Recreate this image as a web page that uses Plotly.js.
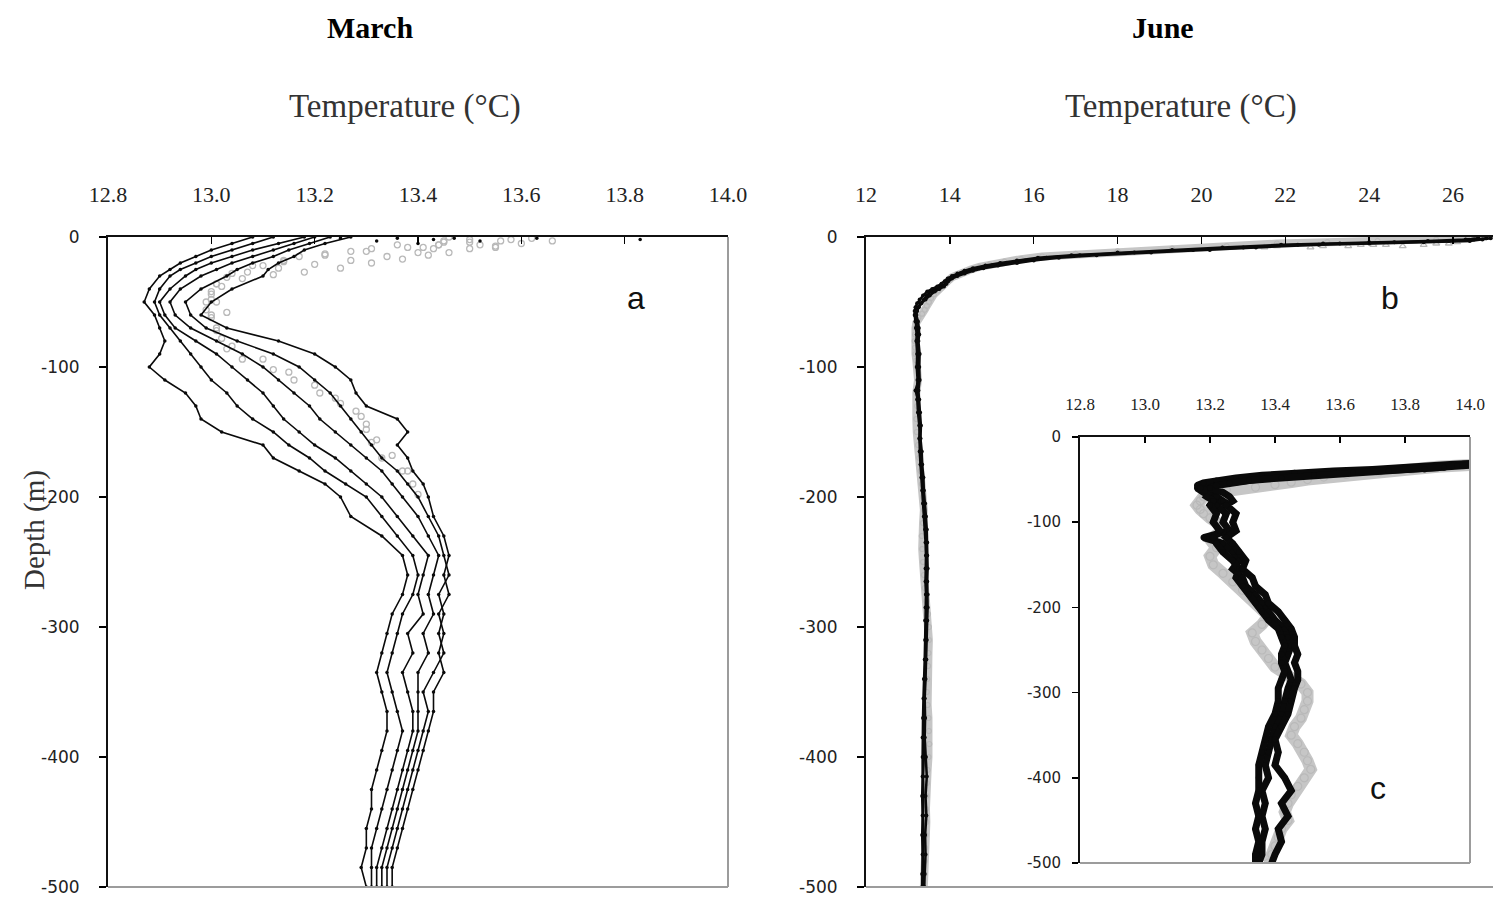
<!DOCTYPE html>
<html>
<head>
<meta charset="utf-8">
<script src="https://cdn.plot.ly/plotly-3.0.1.min.js"></script>
<style>html,body{margin:0;padding:0;background:#fff;}#chart{width:1493px;height:901px;}</style>
</head>
<body>
<div id="chart"></div>
<script>
// ---------- March (panel a) ----------
const marchDepth = [0,-5,-10,-15,-20,-25,-30,-40,-50,-60,-70,-80,-90,-100,-110,-120,-130,-140,-150,-160,-170,-180,-190,-200,-215,-230,-245,-260,-275,-290,-305,-320,-335,-350,-365,-380,-395,-410,-425,-440,-455,-470,-485,-500];
const marchP1 = [13.08,13.04,13.00,12.97,12.94,12.92,12.90,12.88,12.87,12.89,12.90,12.91,12.90,12.88,12.91,12.95,12.97,12.98,13.02,13.10,13.12,13.17,13.22,13.25,13.27,13.33,13.37,13.38,13.37,13.35,13.34,13.33,13.32,13.33,13.34,13.34,13.33,13.32,13.31,13.31,13.30,13.30,13.29,13.30];
const marchP2 = [13.12,13.08,13.04,13.00,12.97,12.94,12.92,12.90,12.89,12.90,12.92,12.94,12.96,12.98,13.00,13.03,13.05,13.08,13.12,13.15,13.19,13.22,13.26,13.30,13.33,13.36,13.39,13.40,13.39,13.37,13.36,13.35,13.34,13.35,13.36,13.37,13.36,13.35,13.34,13.33,13.32,13.31,13.31,13.31];
const marchP3 = [13.18,13.13,13.08,13.04,13.00,12.97,12.95,12.92,12.90,12.91,12.93,12.97,13.01,13.04,13.07,13.10,13.12,13.14,13.17,13.20,13.24,13.27,13.30,13.33,13.36,13.39,13.42,13.41,13.40,13.41,13.38,13.39,13.37,13.38,13.39,13.39,13.38,13.37,13.36,13.35,13.34,13.33,13.32,13.32];
const marchP4 = [13.20,13.16,13.12,13.08,13.04,13.01,12.98,12.94,12.92,12.93,12.96,13.01,13.06,13.10,13.13,13.16,13.19,13.21,13.24,13.27,13.30,13.33,13.35,13.37,13.40,13.42,13.44,13.43,13.42,13.43,13.41,13.42,13.40,13.40,13.40,13.40,13.39,13.38,13.37,13.36,13.35,13.34,13.33,13.33];
const marchP5 = [13.23,13.19,13.15,13.12,13.08,13.05,13.03,12.98,12.95,12.96,12.99,13.05,13.12,13.17,13.20,13.23,13.25,13.27,13.29,13.31,13.33,13.36,13.38,13.40,13.42,13.44,13.45,13.46,13.44,13.45,13.44,13.45,13.43,13.41,13.42,13.41,13.40,13.39,13.38,13.37,13.36,13.35,13.34,13.34];
const marchP6 = [13.27,13.22,13.18,13.16,13.13,13.11,13.10,13.04,13.00,12.98,13.03,13.13,13.20,13.24,13.27,13.28,13.30,13.36,13.38,13.36,13.38,13.39,13.41,13.42,13.43,13.45,13.46,13.45,13.46,13.44,13.45,13.44,13.45,13.43,13.43,13.42,13.41,13.40,13.39,13.38,13.37,13.36,13.35,13.35];
const marchSurfT = [13.25,13.32,13.36,13.40,13.43,13.47,13.52,13.63,13.83];
const marchSurfD = [-1,-3,-1,-5,-2,-1,-3,-1,-2];
const marchGray1T = [13.66,13.60,13.55,13.50,13.46,13.42,13.37,13.31,13.25,13.18,13.12,13.06,13.02,13.00,12.99,12.99,13.00,13.01,13.02,13.03,13.06,13.12,13.16,13.21,13.25,13.29,13.30,13.31,13.33,13.37,13.39,13.40];
const marchGray1D = [-3,-5,-7,-9,-12,-14,-17,-20,-24,-27,-29,-32,-38,-44,-50,-56,-62,-70,-78,-86,-94,-102,-110,-120,-128,-138,-148,-158,-170,-180,-190,-198];
const marchGray2T = [13.46,13.45,13.44,13.43,13.40,13.34,13.27,13.20,13.13,13.07,13.03,13.01,13.00,13.01,13.03];
const marchGray2D = [0,-3,-6,-9,-12,-15,-18,-21,-24,-27,-31,-36,-42,-50,-58];
const marchGray3T = [13.62,13.56,13.50,13.44,13.38,13.30,13.22,13.14,13.08,13.04,13.01,13.00,13.00,13.01,13.04,13.10,13.15,13.20,13.24,13.28,13.30,13.32,13.35,13.38];
const marchGray3D = [-1,-3,-4,-6,-8,-11,-14,-18,-22,-28,-36,-48,-60,-72,-84,-94,-104,-114,-124,-134,-144,-156,-168,-180];
const marchGray4T = [13.50,13.52,13.45,13.41,13.36,13.31,13.27,13.22,13.17,13.14,13.10,13.58,13.55];
const marchGray4D = [-2,-6,-4,-8,-6,-9,-11,-13,-15,-19,-22,-2,-8];

// ---------- June (panels b and c) ----------
const juneDepth = [-1,-2,-3,-4,-5,-6,-8,-10,-12,-14,-16,-18,-20,-22,-24,-26,-28,-30,-32,-34,-36,-38,-40,-42,-45,-48,-51,-54,-57,-60,-65,-70,-75,-80,-90,-100,-110,-118,-125,-135,-145,-155,-165,-175,-185,-195,-205,-215,-225,-235,-245,-255,-265,-275,-285,-295,-310,-325,-340,-355,-370,-385,-400,-415,-430,-445,-460,-475,-490,-500];
const juneBlack1 = [26.8,26.5,25.9,24.6,23.3,22.3,21.0,19.8,18.4,17.1,16.3,15.8,15.4,15.0,14.7,14.45,14.25,14.1,13.98,13.95,13.9,13.8,13.66,13.54,13.45,13.38,13.3,13.24,13.19,13.16,13.18,13.22,13.24,13.22,13.25,13.24,13.26,13.18,13.24,13.27,13.29,13.27,13.30,13.31,13.34,13.36,13.38,13.40,13.43,13.44,13.45,13.44,13.43,13.44,13.45,13.44,13.43,13.42,13.40,13.39,13.38,13.37,13.38,13.36,13.37,13.36,13.37,13.36,13.36,13.35];
const juneBlack2 = [26.6,26.3,25.4,24.0,22.9,21.9,20.5,19.3,18.0,16.9,16.1,15.6,15.2,14.85,14.55,14.35,14.18,14.05,13.95,13.88,13.8,13.7,13.58,13.46,13.36,13.28,13.22,13.18,13.16,13.17,13.2,13.19,13.21,13.2,13.22,13.21,13.23,13.21,13.22,13.24,13.27,13.29,13.28,13.30,13.32,13.34,13.36,13.38,13.41,13.42,13.43,13.42,13.42,13.43,13.42,13.41,13.41,13.40,13.38,13.37,13.36,13.35,13.35,13.35,13.34,13.35,13.34,13.35,13.34,13.34];
const juneBlack3 = [26.9,26.7,26.4,25.3,24.0,22.8,21.3,20.2,18.8,17.5,16.6,16.0,15.6,15.15,14.8,14.55,14.35,14.18,14.05,13.96,13.92,13.86,13.75,13.64,13.52,13.42,13.32,13.26,13.22,13.2,13.24,13.26,13.27,13.25,13.28,13.27,13.28,13.25,13.27,13.29,13.31,13.30,13.33,13.34,13.37,13.38,13.41,13.43,13.45,13.46,13.46,13.47,13.46,13.47,13.47,13.46,13.45,13.44,13.42,13.40,13.41,13.40,13.43,13.45,13.42,13.44,13.41,13.42,13.40,13.39];
const juneGrayDepth = [-1,-2,-3,-4,-5,-7,-9,-11,-13,-15,-17,-19,-21,-23,-25,-27,-29,-31,-33,-35,-38,-41,-44,-47,-50,-53,-56,-59,-62,-66,-70,-75,-80,-85,-90,-95,-100,-110,-120,-130,-140,-150,-160,-170,-180,-190,-200,-210,-220,-230,-240,-250,-260,-270,-280,-290,-300,-310,-320,-330,-340,-350,-360,-370,-380,-390,-400,-410,-420,-430,-440,-450,-460,-470,-480,-490,-500];
const juneGray = [26.4,25.6,24.2,23.0,21.8,20.6,19.3,18.0,17.0,16.2,15.7,15.3,14.95,14.7,14.5,14.3,14.15,14.05,13.98,13.9,13.82,13.72,13.62,13.55,13.5,13.45,13.4,13.34,13.25,13.2,13.18,13.17,13.16,13.17,13.18,13.2,13.22,13.24,13.2,13.22,13.2,13.21,13.24,13.27,13.3,13.33,13.36,13.38,13.36,13.33,13.34,13.36,13.38,13.40,13.44,13.48,13.5,13.5,13.49,13.48,13.46,13.45,13.47,13.49,13.5,13.51,13.49,13.47,13.45,13.44,13.43,13.44,13.42,13.41,13.40,13.39,13.38];
const juneTriT = [21.5,21.8,22.6,22.9,23.5,23.8,24.1,24.4,24.8,25.3,25.6,25.9,26.1];
const juneTriD = [-8,-7,-8,-7,-7,-6,-6,-6,-7,-6,-5,-5,-4];

// ---------- tick labels ----------
const tickMarchVals = [12.8,13.0,13.2,13.4,13.6,13.8,14.0];
const tickMarchText = ['12.8','13.0','13.2','13.4','13.6','13.8','14.0'];
const tickJuneVals = [12,14,16,18,20,22,24,26];
const tickJuneText = ['12','14','16','18','20','22','24','26'];
const depthTickVals = [0,-100,-200,-300,-400,-500];
const depthTickText = ['0','-100','-200','-300','-400','-500'];

const W = 1493, H = 901;
const px = v => v / W;
const py = v => 1 - v / H;

const BLACK = '#0a0a0a';
const GRAY = '#b9b9b9';

function blackLine(x, y, xa, ya, lw, ms) {
  return {x: x, y: y, xaxis: xa, yaxis: ya, type: 'scatter', mode: 'lines+markers',
    line: {color: BLACK, width: lw}, marker: {color: BLACK, size: ms}, showlegend: false, hoverinfo: 'skip'};
}
function grayLine(x, y, xa, ya, lw, ms) {
  return {x: x, y: y, xaxis: xa, yaxis: ya, type: 'scatter', mode: 'lines+markers',
    line: {color: '#c6c6c6', width: lw}, marker: {color: GRAY, size: ms, symbol: 'circle-open', line: {width: 1.2, color: GRAY}}, showlegend: false, hoverinfo: 'skip'};
}
function grayDots(x, y, xa, ya, ms, sym) {
  return {x: x, y: y, xaxis: xa, yaxis: ya, type: 'scatter', mode: 'markers',
    marker: {color: GRAY, size: ms, symbol: sym, line: {width: 1.3, color: GRAY}}, showlegend: false, hoverinfo: 'skip'};
}

const traces = [
  grayDots(marchGray1T, marchGray1D, 'x', 'y', 6, 'circle-open'),
  grayDots(marchGray2T, marchGray2D, 'x', 'y', 6, 'circle-open'),
  grayDots(marchGray3T, marchGray3D, 'x', 'y', 6, 'circle-open'),
  grayDots(marchGray4T, marchGray4D, 'x', 'y', 6, 'circle-open'),
  blackLine(marchP1, marchDepth, 'x', 'y', 1.6, 3.5),
  blackLine(marchP2, marchDepth, 'x', 'y', 1.6, 3.5),
  blackLine(marchP3, marchDepth, 'x', 'y', 1.6, 3.5),
  blackLine(marchP4, marchDepth, 'x', 'y', 1.6, 3.5),
  blackLine(marchP5, marchDepth, 'x', 'y', 1.6, 3.5),
  blackLine(marchP6, marchDepth, 'x', 'y', 1.6, 3.5),
  {x: marchSurfT, y: marchSurfD, xaxis: 'x', yaxis: 'y', type: 'scatter', mode: 'markers',
    marker: {color: BLACK, size: 3.5}, showlegend: false, hoverinfo: 'skip'},

  grayLine(juneGray, juneGrayDepth, 'x2', 'y2', 8, 5),
  grayDots(juneTriT, juneTriD, 'x2', 'y2', 6, 'triangle-up-open'),
  blackLine(juneBlack1, juneDepth, 'x2', 'y2', 2.5, 4),
  blackLine(juneBlack2, juneDepth, 'x2', 'y2', 2.5, 4),
  blackLine(juneBlack3, juneDepth, 'x2', 'y2', 2.5, 4),

  grayLine(juneGray, juneGrayDepth, 'x3', 'y3', 12, 8),
  blackLine(juneBlack1, juneDepth, 'x3', 'y3', 7, 6),
  blackLine(juneBlack2, juneDepth, 'x3', 'y3', 7, 6),
  blackLine(juneBlack3, juneDepth, 'x3', 'y3', 7, 6)
];

const serifTick = {family: 'Liberation Serif, Times New Roman, serif', size: 22, color: '#222'};
const sansTick = {family: 'DejaVu Sans, sans-serif', size: 17, color: '#222'};

function xAxis(dom, rng, vals, text, anchor, font, len, stand) {
  return {domain: dom, range: rng, side: 'top', anchor: anchor, tickmode: 'array', tickvals: vals, ticktext: text,
    ticks: 'inside', ticklen: len, tickwidth: 1.5, tickcolor: '#000', showline: true, linecolor: '#111', linewidth: 2,
    showgrid: false, zeroline: false, tickfont: font, ticklabelstandoff: stand, fixedrange: true};
}
function yAxis(dom, anchor, font, len, stand) {
  return {domain: dom, range: [-500, 0], anchor: anchor, tickmode: 'array', tickvals: depthTickVals, ticktext: depthTickText,
    ticks: 'outside', ticklen: len, tickwidth: 1.5, tickcolor: '#000', showline: true, linecolor: '#111', linewidth: 2,
    showgrid: false, zeroline: false, tickfont: font, ticklabelstandoff: stand, fixedrange: true};
}

const grayEdge = {color: '#9c9c9c', width: 2};
const shapes = [
  {type: 'line', xref: 'x domain', yref: 'y domain', x0: 1, x1: 1, y0: 0, y1: 1, line: grayEdge},
  {type: 'line', xref: 'x domain', yref: 'y domain', x0: 0, x1: 1, y0: 0, y1: 0, line: grayEdge},
  {type: 'line', xref: 'x2 domain', yref: 'y2 domain', x0: 0, x1: 1, y0: 0, y1: 0, line: grayEdge},
  {type: 'line', xref: 'x3 domain', yref: 'y3 domain', x0: 1, x1: 1, y0: 0, y1: 1, line: grayEdge},
  {type: 'line', xref: 'x3 domain', yref: 'y3 domain', x0: 0, x1: 1, y0: 0, y1: 0, line: grayEdge}
];

const titleSerif = {family: 'Liberation Serif, Times New Roman, serif', size: 33, color: '#333'};
const boldSerif = {family: 'Liberation Serif, Times New Roman, serif', size: 30, color: '#000'};
const panelFont = {family: 'Liberation Sans, Arial, sans-serif', size: 32, color: '#111'};

function ann(text, x, y, font, extra) {
  return Object.assign({text: text, x: px(x), y: py(y), xref: 'paper', yref: 'paper', showarrow: false,
    xanchor: 'center', yanchor: 'middle', font: font}, extra || {});
}

const annotations = [
  ann('<b>March</b>', 370, 27, boldSerif),
  ann('<b>June</b>', 1163, 27, boldSerif),
  ann('Temperature (°C)', 405, 106, titleSerif),
  ann('Temperature (°C)', 1181, 106, titleSerif),
  ann('Depth (m)', 34, 530, {family: 'Liberation Serif, Times New Roman, serif', size: 29, color: '#333'}, {textangle: -90}),
  ann('a', 636, 298, panelFont),
  ann('b', 1390, 298, panelFont),
  ann('c', 1378, 788, panelFont)
];

const layout = {
  width: W, height: H, autosize: false,
  margin: {l: 0, r: 0, t: 0, b: 0},
  paper_bgcolor: '#fff', plot_bgcolor: '#fff',
  showlegend: false,
  xaxis: xAxis([px(108), px(728)], [12.8, 14.0], tickMarchVals, tickMarchText, 'y', serifTick, 7, 24),
  yaxis: yAxis([14 / H, 664 / H], 'x', sansTick, 7, 16),
  xaxis2: xAxis([px(866), 1], [12, 12 + 627 / 41.93], tickJuneVals, tickJuneText, 'y2', serifTick, 7, 24),
  yaxis2: yAxis([14 / H, 664 / H], 'x2', sansTick, 7, 16),
  xaxis3: xAxis([px(1080), px(1470)], [12.8, 14.0], tickMarchVals, tickMarchText, 'y3', {family: 'Liberation Serif, Times New Roman, serif', size: 17, color: '#222'}, 6, 18),
  yaxis3: yAxis([38 / H, 464 / H], 'x3', {family: 'DejaVu Sans, sans-serif', size: 15, color: '#222'}, 6, 8),
  shapes: shapes,
  annotations: annotations
};

Plotly.newPlot('chart', traces, layout, {staticPlot: true, displayModeBar: false});
</script>
</body>
</html>
